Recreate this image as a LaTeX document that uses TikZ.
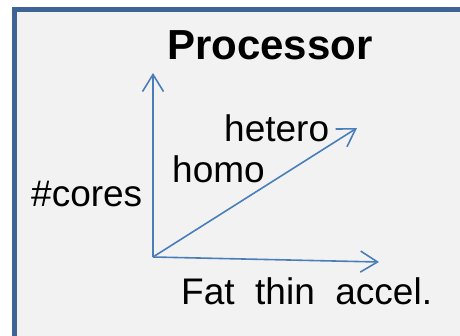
\documentclass[tikz,border=0pt]{standalone}
\usepackage{fontspec}
\setmainfont{Liberation Sans}
\usetikzlibrary{arrows.meta}
\definecolor{boxborder}{HTML}{3D6495}
\definecolor{boxfill}{HTML}{F2F2F2}
\definecolor{axis}{HTML}{4A7EBB}
\tikzset{
  axisarrow/.style={draw=axis, line width=1.6pt, -{Straight Barb[length=17pt,width=21pt,line width=1.6pt]}},
  lbl/.style={inner sep=0pt, anchor=base west, font=\fontsize{37}{44}\selectfont},
  ttl/.style={inner sep=0pt, anchor=base, font=\fontsize{42}{50}\selectfont\bfseries}
}
\begin{document}
\begin{tikzpicture}[x=1pt,y=-1pt]
\useasboundingbox (0,0) rectangle (460,336);
\begin{scope}
\clip (0,0) rectangle (460,336);
\draw[draw=boxborder, fill=boxfill, line width=5pt] (14.5,9.5) rectangle (480,338.5);
\end{scope}
\node[ttl] (title) at (270,60) {Processor};
\coordinate (O) at (153,257);
\coordinate (ytop) at (153,73);
\coordinate (xend) at (379,262);
\coordinate (dend) at (357,128);
\draw[axisarrow] (O) -- (ytop);
\draw[axisarrow] (O) -- (xend);
\draw[axisarrow] (O) -- (dend);
\node[lbl] (cores) at (31,207) {\#cores};
\node[lbl] (hetero) at (224,142) {hetero};
\node[lbl] (homo) at (172,183) {homo};
\node[lbl] (fat) at (181,305) {Fat\ \ thin\ \ accel.};
\end{tikzpicture}
\end{document}
